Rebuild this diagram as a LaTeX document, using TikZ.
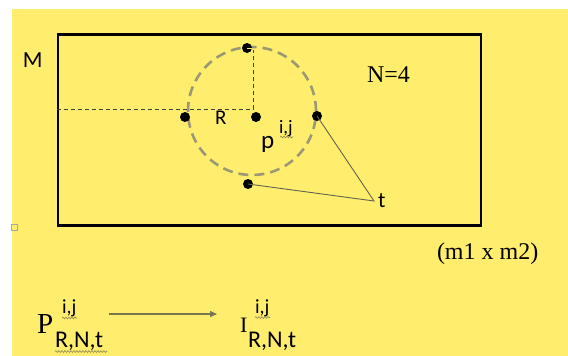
\documentclass[tikz,border=0pt]{standalone}
\usepackage{fontspec}
\setmainfont{Liberation Serif}
\newfontfamily\calibfont{Carlito}
\usetikzlibrary{arrows.meta,decorations.pathmorphing}
\definecolor{bgyellow}{RGB}{255,237,110}
\definecolor{circgray}{RGB}{155,152,115}
\definecolor{linegray}{RGB}{100,100,78}
\definecolor{arrowgray}{RGB}{120,118,80}
\definecolor{squig}{RGB}{140,135,85}
\tikzset{
  txt/.style={inner sep=0pt, outer sep=0pt, anchor=base west, text=black},
  sans/.style={txt, font=\calibfont\fontsize{#1}{#1}\selectfont},
  serif/.style={txt, font=\fontsize{#1}{#1}\selectfont},
  dotnode/.style={circle, fill=black, inner sep=0pt, minimum size=10pt},
  guide/.style={draw=black!75, line width=0.9pt, dash pattern=on 4pt off 3pt},
  tline/.style={draw=linegray, line width=0.9pt},
  wavy/.style={draw=squig, line width=0.6pt, decorate, decoration={snake, amplitude=0.9pt, segment length=3pt}},
}
\begin{document}
\begin{tikzpicture}[x=1pt,y=-1pt]
\useasboundingbox (0,0) rectangle (568,356);
\fill[bgyellow] (12,9) rectangle (568,356);
\node[draw=gray!70, line width=0.8pt, minimum size=6pt, inner sep=0pt] (speck) at (14,227) {};

% frame
\node[draw=black, line width=2.8pt, minimum width=423pt, minimum height=191pt, inner sep=0pt] (frame) at (269.5,130) {};

% dashed circle
\node[circle, draw=circgray, line width=2.6pt, dash pattern=on 10pt off 6pt, minimum size=128pt, inner sep=0pt] (circ) at (252,111) {};

% guides
\coordinate (hl) at (frame.west |- 0,109);
\coordinate (hr) at (253,109);
\coordinate (vt) at (253,50);
\draw[guide] (hl) -- (hr) -- (vt);

% points
\node[dotnode] (pc) at (256,117) {};
\node[dotnode] (pl) at (185,117) {};
\node[dotnode] (pr) at (317,116) {};
\node[dotnode] (ptop) at (247,48) {};
\node[dotnode] (pb) at (248,184) {};
\draw[bgyellow, line width=0.9pt] (ptop.center) -- (ptop.east);

% t
\coordinate (tp) at (374,201);
\draw[tline] (pr.center) -- (tp) -- (pb.center);
\node[sans=22] (t) at (378,207) {t};

% labels inside
\node[sans=23] (M) at (23,67) {M};
\node[sans=21] (R) at (215,124) {R};
\node[sans=25] (p) at (261,148) {p};
\node[sans=19] (pij) at (279,133) {i,j};
\draw[wavy] (280,137) -- (293,137);
\node[serif=24] (N) at (367,82) {N=4};
\node[serif=24] (dims) at (437,259) {(m1 x m2)};

% bottom formula
\node[serif=29] (P) at (37,333) {P};
\node[sans=20] (Pij) at (62,313) {i,j};
\node[sans=24] (Psub) at (55,347) {R,N,t};
\draw[wavy] (62,318) -- (77,318);
\draw[wavy] (55,351.5) -- (107,351.5);

\node[serif=22] (I) at (240,332) {I};
\node[sans=20] (Iij) at (255,313) {i,j};
\node[sans=24] (Isub) at (248,347) {R,N,t};
\draw[wavy] (255,317.5) -- (270,317.5);

\coordinate (as) at (109,314);
\coordinate (ae) at (217,314);
\draw[draw=arrowgray, line width=1.3pt, -{Triangle[length=7pt,width=6pt]}] (as) -- (ae);
\end{tikzpicture}
\end{document}
